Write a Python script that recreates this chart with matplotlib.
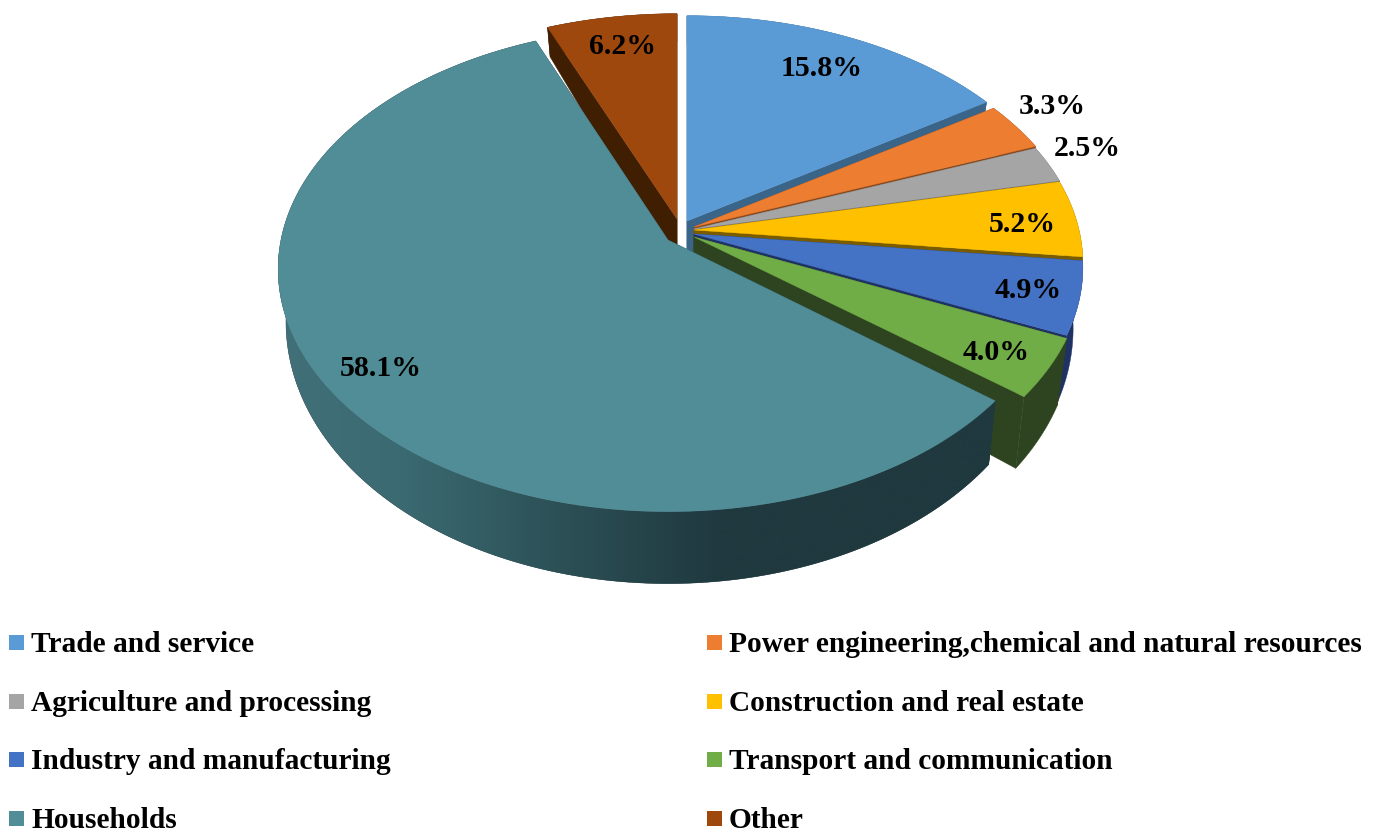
"""Households take most of the loan portfolio: 3D looking pie."""
import numpy as np
import matplotlib
matplotlib.use("Agg")
import matplotlib.pyplot as plt
from matplotlib.colors import to_rgb
from matplotlib.patches import Polygon, Rectangle

plt.rcParams["font.family"] = ["Liberation Serif", "DejaVu Serif"]

categories = ["Trade and service", "Power engineering,chemical and natural resources",
              "Agriculture and processing", "Construction and real estate",
              "Industry and manufacturing", "Transport and communication",
              "Households", "Other"]
values = [15.8, 3.3, 2.5, 5.2, 4.9, 4.0, 58.1, 6.2]

top_colors = ["#5B9BD5", "#ED7D31", "#A5A5A5", "#FFC000",
              "#4472C4", "#70AD47", "#518D97", "#9E480E"]
wall_colors = ["#3A6488", "#8A4A1C", "#5E5E5E", "#7A5C00",
               "#1E3263", "#2E4420", "#20393F", "#401E02"]

# where each slice's tip ends up on the page, pixels
tips = [(687, 221), (694, 227), (694, 229), (694, 230),
        (694, 234), (694, 237), (668, 240), (677, 219)]
label_pos = [(822, 69), (1052, 107), (1087, 149), (1022, 225),
             (1028, 291), (996, 353), (381, 369), (622, 47)]

# projection per slice, the exploded households slice sits a bit different
radius = [385, 385, 385, 385, 385, 385, 387, 385]
radius_y = [234, 234, 234, 234, 234, 234, 239, 234]
persp = [0.14, 0.14, 0.14, 0.14, 0.14, 0.14, 0.12, 0.14]
drop = [50, 50, 50, 50, 58, 58, 50, 50]
shrink = [0.98, 0.98, 0.98, 0.98, 0.975, 0.975, 0.98, 0.98]


def project(i, t):
    """Angle clockwise from top to top face and bottom rim points."""
    tip = tips[i]
    sx, cy = np.sin(t), np.cos(t)
    w = 1 + persp[i] * cy
    x = tip[0] + radius[i] * sx / w
    y = tip[1] - radius_y[i] * cy / w
    xb = tip[0] + (x - tip[0]) * shrink[i]
    yb = y + drop[i] - 22 * cy
    return np.column_stack([x, y]), np.column_stack([xb, yb])


def side_gradient(x):
    stops = [280, 400, 560, 720, 1000]
    cols = np.array([to_rgb(c) for c in
                     ["#417079", "#3B6A72", "#2C5056", "#1F393F", "#20393F"]])
    return np.column_stack([np.interp(x, stops, cols[:, k]) for k in range(3)])


fig = plt.figure(figsize=(13.8, 8.32), dpi=100)
ax = fig.add_axes([0, 0, 1, 1])

edges = np.cumsum([0] + values) / sum(values) * 2 * np.pi

# far slice first, households last so it covers the others
for i in [7, 0, 1, 2, 3, 4, 5, 6]:
    tip = tips[i]
    t = np.linspace(edges[i], edges[i + 1], 400)
    top, bottom = project(i, t)
    tip_low = (tip[0], tip[1] + drop[i])

    # cut faces
    for j in (0, -1):
        ax.add_patch(Polygon([tip, top[j], bottom[j], tip_low],
                             fc=wall_colors[i], ec=wall_colors[i], lw=0.3))
    # rim
    rim = Polygon(np.vstack([top, bottom[::-1]]), fc=wall_colors[i],
                  ec=wall_colors[i], lw=0.3)
    ax.add_patch(rim)
    if categories[i] == "Households":
        xs = np.arange(270, 1011)
        img = ax.imshow(side_gradient(xs)[np.newaxis, :, :], aspect="auto",
                        extent=(270, 1010, 600, 250), zorder=rim.get_zorder())
        img.set_clip_path(rim)
    # top face
    ax.add_patch(Polygon(np.vstack([[tip], top]), fc=top_colors[i],
                         ec=top_colors[i], lw=0.3, zorder=2))

for val, pos in zip(values, label_pos):
    ax.text(pos[0], pos[1], f"{val:.1f}%", ha="center", va="center",
            fontsize=21.5, fontweight="bold", color="black", zorder=5)

# legend, two columns
row_y = [652, 711, 769, 828]
for i, name in enumerate(categories):
    col_x = 9 if i % 2 == 0 else 707
    y = row_y[i // 2]
    ax.add_patch(Rectangle((col_x, y - 17), 15, 15, fc=top_colors[i], ec="none"))
    ax.text(col_x + 22, y, name, ha="left", va="baseline",
            fontsize=21.15, fontweight="bold", color="black")

ax.set_xlim(0, 1380)
ax.set_ylim(832, 0)
ax.axis("off")

fig.savefig("out.png", dpi=100)
